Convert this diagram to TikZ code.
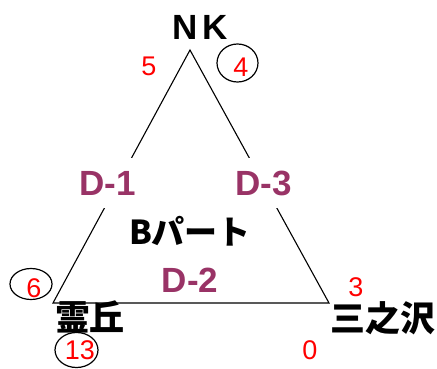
\documentclass[tikz,border=0pt]{standalone}
\usepackage{fontspec}
\setmainfont{Liberation Sans}
\newfontfamily\cjk{Noto Sans CJK JP}
\usetikzlibrary{shapes.geometric}
\definecolor{dlab}{HTML}{993366}
\begin{document}
\begin{tikzpicture}[x=1pt,y=-1pt,
  side/.style={draw=black, line width=1.1pt},
  dlabel/.style={font=\fontsize{35}{35}\selectfont\bfseries, text=dlab, fill=white, inner sep=0pt, minimum height=50pt, minimum width=58pt},
  num/.style={font=\fontsize{27}{27}\selectfont, text=red, inner sep=0pt},
  ring/.style={draw, ellipse, line width=1.2pt, inner sep=0pt},
  place/.style={font=\cjk\bfseries\fontsize{35}{35}\selectfont, inner sep=0pt}]
\useasboundingbox (0,0) rectangle (437,369);
\coordinate (top) at (190,50);
\coordinate (bl) at (53,303);
\coordinate (br) at (329,303);
\draw[side] (top) -- (bl) -- (br) -- cycle;
\node[dlabel] (d1) at (107.5,183) {D-1};
\node[dlabel] (d3) at (263.5,183) {D-3};
\node[dlabel, fill=none] (d2) at (190,280) {D-2};
\node[font=\fontsize{35}{35}\selectfont\bfseries, inner sep=0pt] (nk) at (200,27) {N\hspace{5pt}K};
\node[place, font=\cjk\bfseries\fontsize{33}{33}\selectfont] (bp) at (190,231) {Bパート};
\node[place] (rei) at (90,317) {霊丘};
\node[place] (san) at (383,318) {三之沢};
\node[ring, minimum width=41pt, minimum height=38pt] (c4) at (237.5,63) {};
\node[ring, minimum width=42pt, minimum height=31pt] (c6) at (31,284) {};
\node[ring, minimum width=43pt, minimum height=35pt] (c13) at (76.5,350) {};
\node[num] (n5) at (149,66) {5};
\node[num] (n4) at (241,67) {4};
\node[num] (n6) at (34,288) {6};
\node[num] (n13) at (80,350) {13};
\node[num] (n3) at (356,287) {3};
\node[num] (n0) at (310,350) {0};
\end{tikzpicture}
\end{document}
